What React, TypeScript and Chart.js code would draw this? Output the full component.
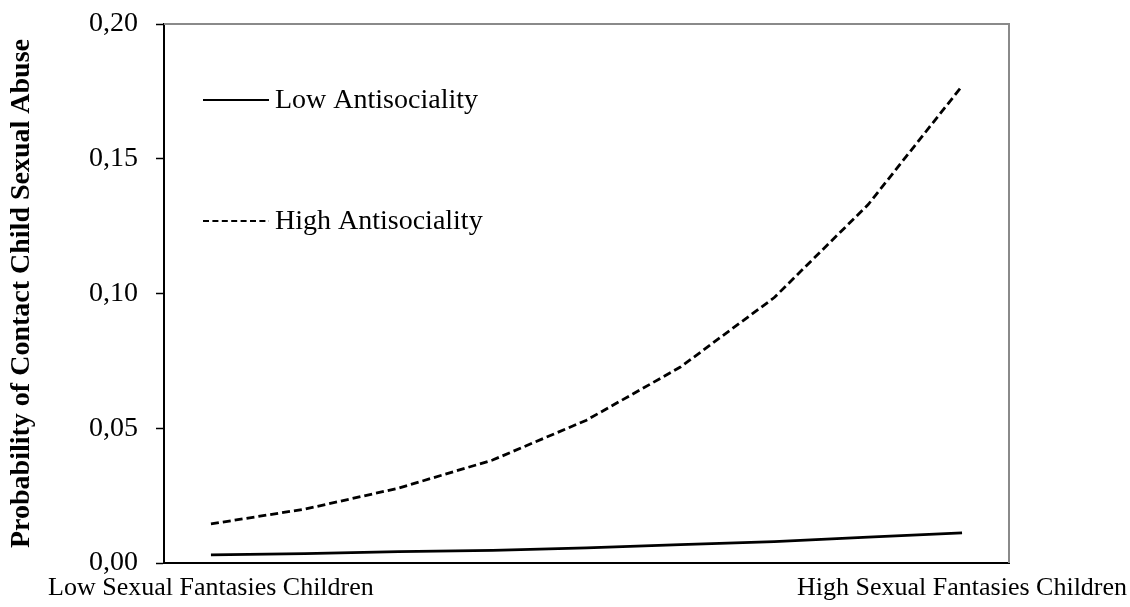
import React, { useEffect, useRef } from 'react';
import { Chart, registerables } from 'chart.js';

Chart.register(...registerables);

// ---- data ----
const steps = ['1', '2', '3', '4', '5', '6', '7', '8', '9'];
const xEndLabels = ['Low Sexual Fantasies Children', 'High Sexual Fantasies Children'];
const lowAntisociality = [0.0030, 0.0035, 0.0042, 0.0047, 0.0056, 0.0068, 0.0079, 0.0096, 0.0112];
const highAntisociality = [0.0145, 0.0200, 0.0278, 0.0382, 0.0530, 0.0727, 0.0985, 0.1330, 0.1770];
const seriesNames = ['Low Antisociality', 'High Antisociality'];
const yTitle = 'Probability of Contact Child Sexual Abuse';
const yMin = 0;
const yMax = 0.2;
const yStep = 0.05;

const SERIF = '"Liberation Serif", "Times New Roman", serif';

const frameAndLegend = {
  id: 'frameAndLegend',
  beforeDatasetsDraw(chart: any) {
    const { ctx, chartArea } = chart;
    ctx.save();
    ctx.strokeStyle = '#8a8a8a';
    ctx.lineWidth = 2;
    ctx.beginPath();
    ctx.moveTo(chartArea.left, chartArea.top);
    ctx.lineTo(chartArea.right, chartArea.top);
    ctx.lineTo(chartArea.right, chartArea.bottom);
    ctx.stroke();
    ctx.restore();
  },
  afterDraw(chart: any) {
    const { ctx } = chart;
    const rows = [100, 221];
    ctx.save();
    chart.data.datasets.forEach((ds: any, i: number) => {
      const y = rows[i];
      ctx.strokeStyle = '#000';
      ctx.lineWidth = 2;
      ctx.setLineDash(ds.borderDash && ds.borderDash.length ? [6, 3.4] : []);
      ctx.beginPath();
      ctx.moveTo(203, y);
      ctx.lineTo(269, y);
      ctx.stroke();
      ctx.setLineDash([]);
      ctx.fillStyle = '#000';
      ctx.font = `28px ${SERIF}`;
      ctx.textAlign = 'left';
      ctx.textBaseline = 'middle';
      ctx.fillText(ds.label, 275, y + 1);
    });
    ctx.restore();
  },
};

export default function App() {
  const ref = useRef<HTMLCanvasElement | null>(null);

  useEffect(() => {
    if (!ref.current) return;
    const chart = new Chart(ref.current, {
      type: 'line',
      data: {
        labels: steps,
        datasets: [
          {
            label: seriesNames[0],
            data: lowAntisociality,
            borderColor: '#000',
            borderWidth: 2.8,
            pointRadius: 0,
            tension: 0,
            fill: false,
          },
          {
            label: seriesNames[1],
            data: highAntisociality,
            borderColor: '#000',
            borderWidth: 2.8,
            borderDash: [8, 4],
            pointRadius: 0,
            tension: 0,
            fill: false,
          },
        ],
      },
      options: {
        animation: false,
        responsive: true,
        maintainAspectRatio: false,
        layout: { padding: { left: 0, right: 121, top: 24, bottom: 0 } },
        plugins: {
          legend: { display: false },
          tooltip: { enabled: false },
        },
        scales: {
          x: {
            type: 'category',
            offset: true,
            grid: { display: false, drawTicks: false },
            border: { display: true, color: '#000', width: 2 },
            ticks: {
              autoSkip: false,
              maxRotation: 0,
              minRotation: 0,
              padding: 10,
              color: '#000',
              font: { family: SERIF, size: 26 },
              callback: (_v: any, i: number) =>
                i === 0 ? xEndLabels[0] : i === steps.length - 1 ? xEndLabels[1] : '',
            },
            afterFit: (scale: any) => {
              scale.height = 44;
              scale.paddingLeft = 0;
              scale.paddingRight = 0;
            },
          },
          y: {
            min: yMin,
            max: yMax,
            grid: { drawOnChartArea: false, drawTicks: true, tickLength: 8, color: '#000', tickWidth: 1.5 },
            border: { display: true, color: '#000', width: 2 },
            ticks: {
              stepSize: yStep,
              padding: 18,
              color: '#000',
              font: { family: SERIF, size: 28 },
              callback: (v: any) => Number(v).toFixed(2).replace('.', ','),
            },
            title: {
              display: true,
              text: yTitle,
              color: '#000',
              font: { family: SERIF, size: 28, weight: 'bold' },
              padding: { top: 5, bottom: 0 },
            },
            afterFit: (scale: any) => {
              scale.width = 164;
              scale.paddingTop = 0;
              scale.paddingBottom = 0;
            },
          },
        },
      },
      plugins: [frameAndLegend],
    });
    return () => chart.destroy();
  }, []);

  return (
    <div style={{ position: 'absolute', left: 0, top: 0, width: 1130, height: 607, background: '#fff' }}>
      <canvas ref={ref} />
    </div>
  );
}
